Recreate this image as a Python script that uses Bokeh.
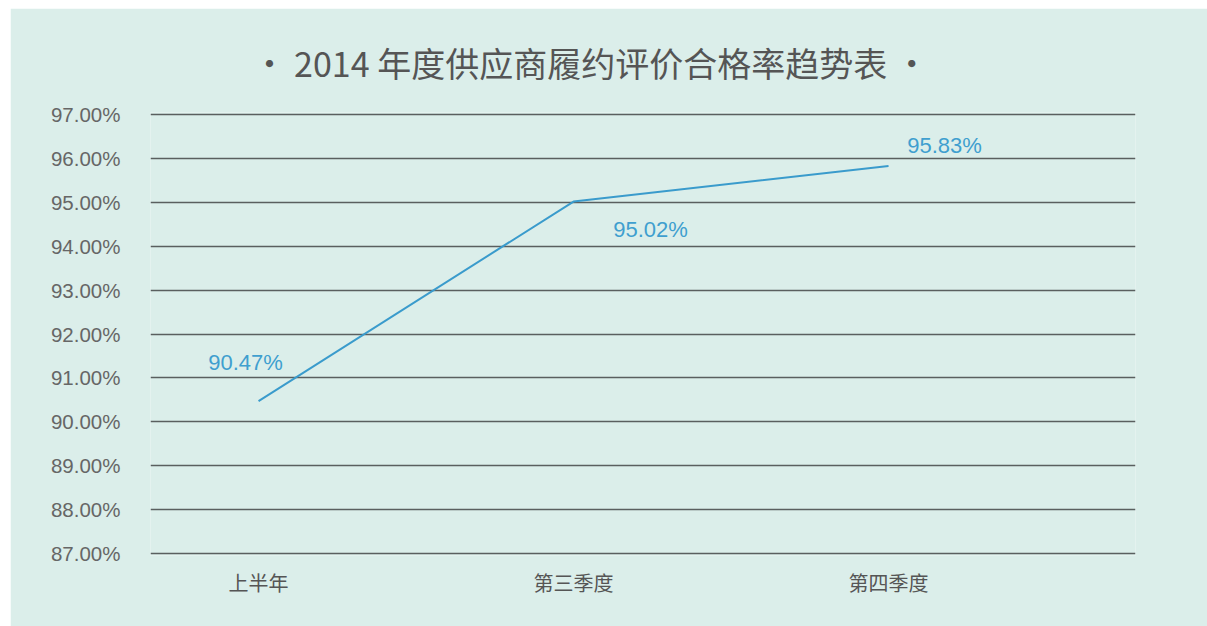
from bokeh.plotting import figure
from bokeh.models import ColumnDataSource, FixedTicker, PrintfTickFormatter, Range1d
from bokeh.core.properties import value
from bokeh.embed import file_html
from bokeh.resources import INLINE

# ---- data ----
categories = ["上半年", "第三季度", "第四季度"]
rates = [90.47, 95.02, 95.83]
y_ticks = [87, 88, 89, 90, 91, 92, 93, 94, 95, 96, 97]
title_text = "· 2014 年度供应商履约评价合格率趋势表 ·"

xs = list(range(1, len(categories) + 1))
labels = ["%.2f%%" % r for r in rates]

src = ColumnDataSource(dict(x=xs, y=rates, label=labels,
                            dx=[-13, 77, 56], dy=[-39, 28, -21]))

BG = "#dbeeea"
p = figure(width=1197, height=618, output_backend="svg", toolbar_location=None,
           x_range=Range1d(0.657, 3.784), y_range=Range1d(86.95, 97.05),
           min_border_left=140, min_border_right=72, min_border_top=104, min_border_bottom=71,
           background_fill_color=BG, border_fill_color=BG, outline_line_color=None)
p.styles = {"margin-left": "10px", "margin-top": "8px"}

# title
p.title.text = title_text
p.title.align = "left"
p.title.offset = 102
p.title.standoff = 51
p.title.text_font = "Noto Sans CJK SC"
p.title.text_font_size = "34px"
p.title.text_font_style = "normal"
p.title.text_color = "#555555"

# grid
p.xgrid.grid_line_color = None
p.ygrid.grid_line_color = "#5a5f5f"
p.ygrid.grid_line_width = 1.6
p.ygrid.ticker = FixedTicker(ticks=y_ticks)

# y axis
p.yaxis.ticker = FixedTicker(ticks=y_ticks)
p.yaxis.formatter = PrintfTickFormatter(format="%.2f%%")
p.yaxis.axis_line_color = None
p.yaxis.major_tick_line_color = None
p.yaxis.minor_tick_line_color = None
p.yaxis.major_label_standoff = 24
p.yaxis.major_label_text_font = "Liberation Sans"
p.yaxis.major_label_text_font_size = "20.5px"
p.yaxis.major_label_text_color = "#666666"

# x axis
p.xaxis.ticker = FixedTicker(ticks=xs)
p.xaxis.major_label_overrides = {x: c for x, c in zip(xs, categories)}
p.xaxis.axis_line_color = None
p.xaxis.major_tick_line_color = None
p.xaxis.minor_tick_line_color = None
p.xaxis.major_label_standoff = 6
p.xaxis.major_label_text_font = "Noto Sans CJK SC"
p.xaxis.major_label_text_font_size = "20px"
p.xaxis.major_label_text_color = "#555555"

# line
p.line("x", "y", source=src, line_color="#3a9bcc", line_width=2)

# data labels
p.text("x", "y", text="label", source=src, x_offset="dx", y_offset="dy",
       text_align="center", text_baseline="middle",
       text_font=value("Liberation Sans"), text_font_size="22px", text_color="#3f9fcf")

open("out.html", "w").write(file_html(p, INLINE))
